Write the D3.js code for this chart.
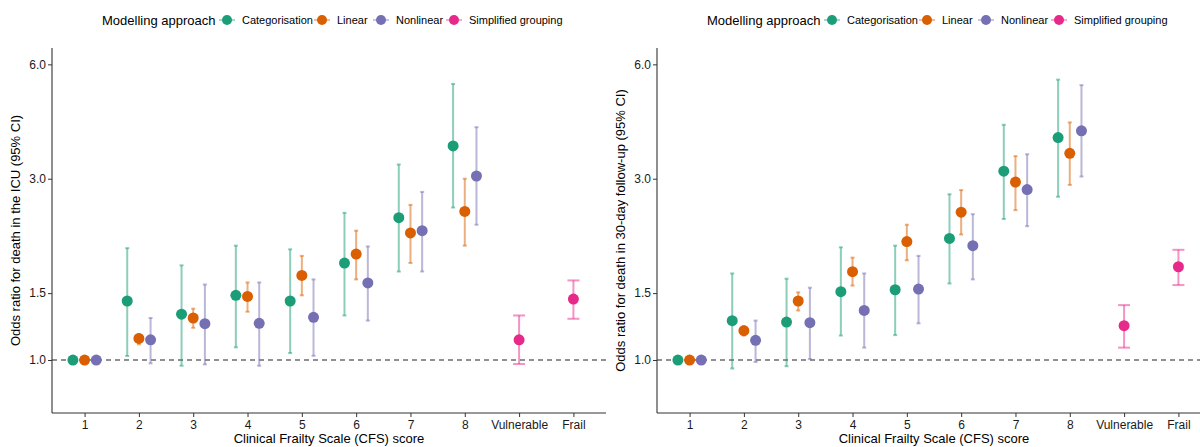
<!DOCTYPE html>
<html>
<head>
<meta charset="utf-8">
<script src="https://cdn.jsdelivr.net/npm/d3@7"></script>
<style>
  body { margin: 0; background: #fff; }
  text { font-family: "Liberation Sans", Arial, sans-serif; }
</style>
</head>
<body>
<svg id="canvas"></svg>
<script>
var width = 1200,
	height = 447;

// categories on the x axis
var categories = ["1", "2", "3", "4", "5", "6", "7", "8", "Vulnerable", "Frail"];
var groups = ["Categorisation", "Linear", "Nonlinear", "Simplified grouping"];
var colours = ["#1B9E77", "#D95F02", "#7570B3", "#E7298A"];
var yTicks = [1.0, 1.5, 3.0, 6.0];

// ICU death: [odds ratio, lower, upper] per CFS score 1..8
var icuCategorisation = [[1, 1, 1], [1.43, 1.025, 1.97], [1.32, 0.966, 1.775], [1.48, 1.08, 2.0],
	[1.43, 1.043, 1.956], [1.80, 1.31, 2.44], [2.37, 1.71, 3.27], [3.66, 2.52, 5.33]];
var icuLinear = [[1, 1, 1], [1.14, 1.10, 1.17], [1.29, 1.216, 1.365], [1.47, 1.34, 1.60],
	[1.67, 1.48, 1.88], [1.90, 1.63, 2.19], [2.16, 1.80, 2.56], [2.46, 2.0, 3.0]];
var icuNonlinear = [[1, 1, 1], [1.13, 0.98, 1.29], [1.246, 0.974, 1.58], [1.249, 0.966, 1.60],
	[1.295, 1.026, 1.63], [1.595, 1.27, 1.99], [2.19, 1.71, 2.77], [3.05, 2.27, 4.10]];
// Vulnerable, Frail
var icuSimplified = [[1.13, 0.976, 1.31], [1.447, 1.284, 1.62]];

// 30-day death
var dayCategorisation = [[1, 1, 1], [1.269, 0.95, 1.69], [1.259, 0.963, 1.637], [1.513, 1.16, 1.98],
	[1.531, 1.163, 2.0], [2.09, 1.59, 2.73], [3.14, 2.35, 4.16], [3.85, 2.69, 5.47]];
var dayLinear = [[1, 1, 1], [1.195, 1.16, 1.229], [1.43, 1.35, 1.507], [1.708, 1.57, 1.86],
	[2.05, 1.83, 2.27], [2.45, 2.14, 2.80], [2.94, 2.48, 3.44], [3.50, 2.89, 4.22]];
var dayNonlinear = [[1, 1, 1], [1.127, 0.988, 1.27], [1.254, 1.006, 1.55], [1.351, 1.078, 1.69],
	[1.537, 1.249, 1.88], [2.0, 1.63, 2.42], [2.81, 2.25, 3.48], [4.01, 3.04, 5.29]];
var daySimplified = [[1.231, 1.078, 1.395], [1.76, 1.575, 1.95]];

var svg = d3.select("#canvas")
	.attr("width", width)
	.attr("height", height);

function toRows(series, group, cats) {
	return series.map(function(d, i){
		return {cat: cats[i], group: group, or: d[0], lo: d[1], hi: d[2]};
	});
}

function drawPanel(left, yTitle, cat, lin, non, simp) {
	var top = 48, bottom = 413, right = left + 554;

	var x = d3.scalePoint()
		.domain(categories)
		.range([left, right])
		.padding(0.6);

	var y = d3.scaleLog()
		.domain([0.7254, 6.625])
		.range([bottom, top]);

	var g = svg.append("g");
	var step = x.step();
	var dodge = d3.scaleOrdinal()
		.domain(groups)
		.range([-0.215 * step, 0, 0.215 * step, 0]);

	var rows = []
		.concat(toRows(cat, groups[0], categories))
		.concat(toRows(lin, groups[1], categories))
		.concat(toRows(non, groups[2], categories))
		.concat(toRows(simp, groups[3], categories.slice(8)));

	var colour = d3.scaleOrdinal().domain(groups).range(colours);

	// reference line
	g.append("line")
		.attr("x1", left).attr("x2", Math.min(right, width))
		.attr("y1", y(1)).attr("y2", y(1))
		.attr("stroke", "#222")
		.attr("stroke-width", 1.1)
		.attr("stroke-dasharray", "5,4");

	// error bars
	var bars = rows.filter(function(d){ return d.hi > d.lo; });
	var eb = g.selectAll(".eb").data(bars).enter().append("g")
		.attr("stroke", function(d){ return colour(d.group); })
		.attr("stroke-opacity", 0.5)
		.attr("stroke-width", 2);

	eb.append("line")
		.attr("x1", function(d){ return x(d.cat) + dodge(d.group); })
		.attr("x2", function(d){ return x(d.cat) + dodge(d.group); })
		.attr("y1", function(d){ return y(d.lo); })
		.attr("y2", function(d){ return y(d.hi); });

	["lo", "hi"].forEach(function(k){
		eb.append("line")
			.attr("x1", function(d){ return x(d.cat) + dodge(d.group) - (d.group == groups[3] ? 6 : 2); })
			.attr("x2", function(d){ return x(d.cat) + dodge(d.group) + (d.group == groups[3] ? 6 : 2); })
			.attr("y1", function(d){ return y(d[k]); })
			.attr("y2", function(d){ return y(d[k]); });
	});

	// points
	g.selectAll(".pt").data(rows).enter().append("circle")
		.attr("cx", function(d){ return x(d.cat) + dodge(d.group); })
		.attr("cy", function(d){ return y(d.or); })
		.attr("r", 5.5)
		.attr("fill", function(d){ return colour(d.group); });

	// axes
	var yAxis = g.append("g")
		.attr("transform", "translate(" + left + ",0)")
		.call(d3.axisLeft(y).tickValues(yTicks).tickFormat(d3.format(".1f")).tickSize(4).tickSizeOuter(0));
	var xAxis = g.append("g")
		.attr("transform", "translate(0," + bottom + ")")
		.call(d3.axisBottom(x).tickSize(4).tickSizeOuter(0));

	[yAxis, xAxis].forEach(function(a){
		a.select(".domain").attr("stroke", "#333").attr("stroke-width", 1.1);
		a.selectAll(".tick line").attr("stroke", "#333");
		a.selectAll("text").attr("fill", "#1a1a1a").style("font-size", "12px")
			.style("font-family", "Liberation Sans, Arial, sans-serif");
	});
	yAxis.selectAll("text").attr("x", -6);
	xAxis.selectAll("text").attr("y", 7);
	// extend axis lines to the corner
	yAxis.select(".domain").attr("d", "M0," + top + "V" + bottom);
	xAxis.select(".domain").attr("d", "M" + left + ",0H" + right);

	g.append("text")
		.attr("transform", "translate(" + (left - 32) + "," + ((top + bottom) / 2) + ") rotate(-90)")
		.attr("text-anchor", "middle")
		.style("font-size", "13px")
		.text(yTitle);

	g.append("text")
		.attr("x", (left + right) / 2)
		.attr("y", 443)
		.attr("text-anchor", "middle")
		.style("font-size", "13px")
		.text("Clinical Frailty Scale (CFS) score");

	// legend
	var lg = g.append("g").attr("transform", "translate(" + (left + 50) + ",20)");
	lg.append("text")
		.attr("x", 0).attr("y", 4.5)
		.style("font-size", "13px")
		.text("Modelling approach");
	var keyX = [125, 220, 279, 352];
	groups.forEach(function(grp, i){
		var k = lg.append("g").attr("transform", "translate(" + keyX[i] + ",0)");
		k.append("line")
			.attr("x1", -8).attr("x2", 8)
			.attr("stroke", colour(grp)).attr("stroke-opacity", 0.4).attr("stroke-width", 2);
		k.append("circle").attr("r", 5).attr("fill", colour(grp));
		k.append("text")
			.attr("x", 15).attr("y", 4)
			.style("font-size", "11px")
			.text(grp);
	});
}

drawPanel(52, "Odds ratio for death in the ICU (95% CI)",
	icuCategorisation, icuLinear, icuNonlinear, icuSimplified);
drawPanel(657, "Odds ratio for death in 30-day follow-up (95% CI)",
	dayCategorisation, dayLinear, dayNonlinear, daySimplified);
</script>
</body>
</html>
